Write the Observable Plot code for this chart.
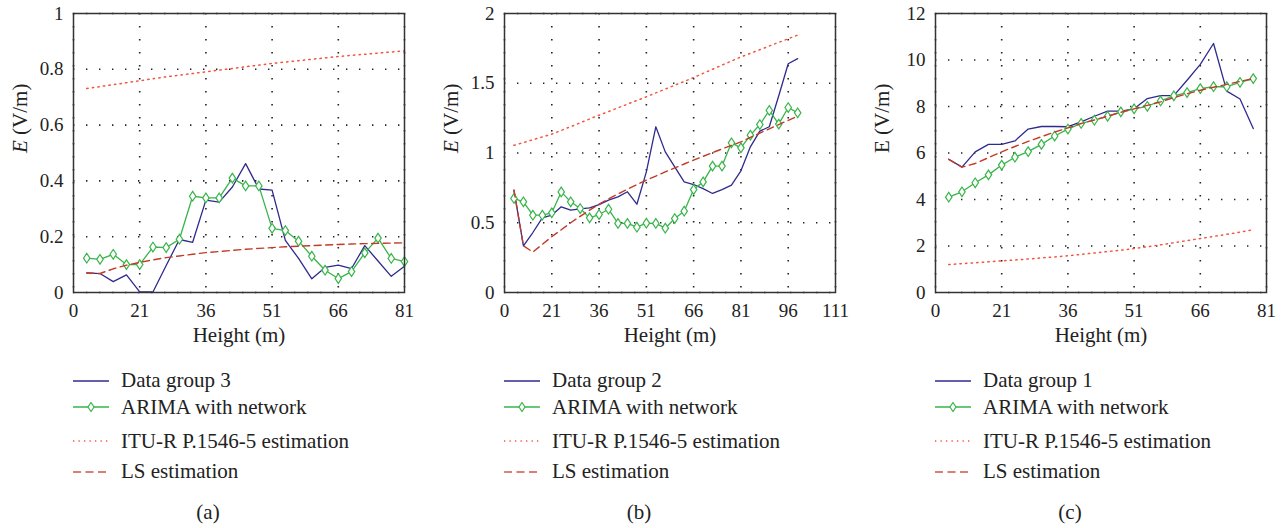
<!DOCTYPE html>
<html><head><meta charset="utf-8">
<script src="https://cdn.jsdelivr.net/npm/d3@7"></script>
<script src="https://cdn.jsdelivr.net/npm/@observablehq/plot@0.6"></script>
<style>
body{margin:0;background:#fff;width:1283px;height:528px;overflow:hidden;font-family:"Liberation Serif",serif;color:#222;position:relative}
.panel{position:absolute;top:0;width:431px;height:528px}
.panel svg.plot{position:absolute;left:0;top:0}
.legend-row{position:absolute;left:73px;height:24px;display:flex;align-items:center;font-size:21px;white-space:nowrap}
.legend-row svg{width:36px;height:14px;margin-right:12px;flex:none}
.caption{position:absolute;width:60px;text-align:center;font-size:21px;line-height:24px}
</style></head><body>
<script>
// ---------- data ----------
const heightsA = [9,12,15,18,21,24,27,30,33,36,39,42,45,48,51,54,57,60,63,66,69,72,75,78,81];
const dataA = [0.070,0.068,0.039,0.063,0.002,0.002,0.097,0.190,0.180,0.331,0.324,0.378,0.462,0.371,0.367,0.187,0.122,0.049,0.090,0.098,0.086,0.168,0.113,0.058,0.094];
const arimaA = [0.123,0.119,0.137,0.100,0.100,0.163,0.161,0.191,0.345,0.339,0.339,0.410,0.382,0.382,0.230,0.222,0.184,0.130,0.080,0.050,0.075,0.142,0.195,0.122,0.111];
const ituA = [0.731,0.738,0.745,0.752,0.759,0.766,0.773,0.779,0.785,0.791,0.797,0.803,0.809,0.815,0.821,0.826,0.831,0.836,0.841,0.846,0.850,0.854,0.858,0.862,0.866];
const lsA = [0.070,0.068,0.085,0.098,0.108,0.117,0.125,0.131,0.137,0.143,0.147,0.151,0.155,0.158,0.161,0.164,0.166,0.168,0.170,0.172,0.174,0.175,0.176,0.177,0.178];

const heightsB = [9,12,15,18,21,24,27,30,33,36,39,42,45,48,51,54,57,60,63,66,69,72,75,78,81,84,87,90,93,96,99];
const dataB = [0.734,0.335,0.430,0.535,0.554,0.614,0.590,0.600,0.607,0.630,0.662,0.686,0.722,0.633,0.865,1.188,1.008,0.900,0.793,0.774,0.745,0.710,0.738,0.770,0.872,1.044,1.157,1.188,1.410,1.640,1.677];
const arimaB = [0.674,0.650,0.554,0.554,0.571,0.721,0.650,0.602,0.535,0.559,0.597,0.495,0.495,0.468,0.497,0.495,0.461,0.530,0.583,0.738,0.793,0.906,0.906,1.073,1.037,1.128,1.204,1.305,1.207,1.326,1.288];
const ituB = [1.055,1.075,1.095,1.115,1.135,1.162,1.189,1.216,1.244,1.271,1.297,1.324,1.350,1.377,1.403,1.431,1.458,1.486,1.513,1.541,1.571,1.600,1.630,1.659,1.689,1.715,1.741,1.767,1.793,1.819,1.845];
const lsB = [0.734,0.335,0.290,0.345,0.400,0.450,0.500,0.546,0.590,0.633,0.672,0.707,0.740,0.773,0.805,0.835,0.865,0.893,0.921,0.949,0.976,1.003,1.029,1.055,1.080,1.112,1.143,1.173,1.204,1.234,1.264];

const heightsC = [9,12,15,18,21,24,27,30,33,36,39,42,45,48,51,54,57,60,63,66,69,72,75,78];
const dataC = [5.73,5.39,6.05,6.37,6.37,6.52,7.03,7.14,7.14,7.13,7.34,7.58,7.80,7.80,7.90,8.34,8.47,8.47,9.13,9.81,10.71,8.66,8.32,7.05];
const arimaC = [4.10,4.33,4.72,5.06,5.48,5.82,6.06,6.37,6.73,7.03,7.27,7.41,7.58,7.77,7.90,8.01,8.24,8.46,8.60,8.77,8.85,8.85,9.04,9.20];
const ituC = [1.20,1.24,1.28,1.32,1.36,1.40,1.44,1.49,1.53,1.58,1.64,1.70,1.76,1.82,1.89,1.97,2.05,2.14,2.23,2.32,2.41,2.50,2.60,2.70];
const lsC = [5.73,5.39,5.55,5.80,6.05,6.28,6.50,6.70,6.90,7.08,7.27,7.42,7.58,7.75,7.90,8.05,8.20,8.38,8.55,8.70,8.83,8.95,9.08,9.20];

const xTicksA = [6,21,36,51,66,81];
const xLabelsA = ["0","21","36","51","66","81"];
const xTicksB = [6,21,36,51,66,81,96,111];
const xLabelsB = ["0","21","36","51","66","81","96","111"];
const xTicksC = [6,21,36,51,66,81];
const xLabelsC = ["0","21","36","51","66","81"];

const yTicksA = [0,0.2,0.4,0.6,0.8,1];
const yTicksB = [0,0.5,1,1.5,2];
const yTicksC = [0,2,4,6,8,10,12];

const seriesNames = ["Data group", "ARIMA with network", "ITU-R P.1546-5 estimation", "LS estimation"];
const groupNumbers = [3, 2, 1];
const captions = ["(a)", "(b)", "(c)"];
const xAxisLabel = "Height (m)";
const yAxisLabel = "E (V/m)";

// ---------- styles ----------
const C = {blue:"#2e2b8e", green:"#38b54a", itu:"#f2553f", ls:"#c23b26", frame:"#333", grid:"#222"};
const DOT = "1.4,4.2", DASH = "7,4.5";

const tallDiamond = {
  draw(ctx, size) {
    const s = Math.sqrt(size);
    const w = s * 0.55, h = s * 0.82;
    ctx.moveTo(0, -h); ctx.lineTo(w, 0); ctx.lineTo(0, h); ctx.lineTo(-w, 0); ctx.closePath();
  }
};

function makePanel(cfg) {
  const rows = cfg.heights.map((h, i) => ({h, data: cfg.data[i], arima: cfg.arima[i], itu: cfg.itu[i], ls: cfg.ls[i]}));
  const wrap = document.createElement("div");
  wrap.className = "panel";
  wrap.style.left = cfg.left + "px";
  document.body.appendChild(wrap);

  const svg = Plot.plot({
    width: 431, height: 350,
    marginLeft: 73, marginRight: 27, marginTop: 13, marginBottom: 58,
    style: {fontFamily: "'Liberation Serif', serif", fontSize: "19px", color: "#222", background: "transparent", overflow: "visible"},
    x: {domain: cfg.xDomain},
    y: {domain: cfg.yDomain},
    marks: [
      Plot.gridX(cfg.xTicks, {stroke: C.grid, strokeOpacity: 1, strokeWidth: 1.6, strokeDasharray: "1.4,11.6"}),
      Plot.gridY(cfg.yTicks, {stroke: C.grid, strokeOpacity: 1, strokeWidth: 1.6, strokeDasharray: "1.4,11.6"}),
      Plot.line(rows, {x: "h", y: "data", stroke: C.blue, strokeWidth: 1.3}),
      Plot.line(rows, {x: "h", y: "arima", stroke: C.green, strokeWidth: 1.3}),
      Plot.dot(rows, {x: "h", y: "arima", symbol: tallDiamond, r: 3.3, stroke: C.green, fill: "white", strokeWidth: 1.2}),
      Plot.line(rows, {x: "h", y: "itu", stroke: C.itu, strokeWidth: 1.5, strokeDasharray: DOT}),
      Plot.line(rows, {x: "h", y: "ls", stroke: C.ls, strokeWidth: 1.4, strokeDasharray: DASH}),
      Plot.frame({stroke: C.frame, strokeWidth: 1.5}),
      Plot.axisX(cfg.xTicks, {tickSize: 0, tickPadding: 11, fontSize: 19, label: null,
        tickFormat: d => cfg.xLabels[cfg.xTicks.indexOf(d)]}),
      Plot.axisY(cfg.yTicks, {tickSize: 0, tickPadding: 10, fontSize: 19, label: null,
        tickFormat: d => String(d)}),
      Plot.text([xAxisLabel], {text: d => d, frameAnchor: "bottom", dy: 43, lineAnchor: "middle", fontSize: 21}),
      Plot.text([yAxisLabel], {text: d => d, frameAnchor: "left", dx: -53, rotate: -90, lineAnchor: "middle", fontSize: 21})
    ]
  });
  svg.classList.add("plot");
  wrap.appendChild(svg);

  if (cfg.italicE) {
    const ns = "http://www.w3.org/2000/svg";
    Array.from(svg.querySelectorAll("text")).filter(t => t.textContent === yAxisLabel).forEach(t => {
      t.textContent = "";
      const a = document.createElementNS(ns, "tspan");
      a.setAttribute("font-style", "italic"); a.style.fontStyle = "italic"; a.textContent = "E";
      const b = document.createElementNS(ns, "tspan");
      b.textContent = yAxisLabel.slice(1);
      t.appendChild(a); t.appendChild(b);
    });
  }

  // legend
  const centers = [380.5, 407, 441, 471.5];
  const labels = [seriesNames[0] + " " + cfg.group, seriesNames[1], seriesNames[2], seriesNames[3]];
  labels.forEach((lab, i) => {
    const row = document.createElement("div");
    row.className = "legend-row";
    row.style.top = (centers[i] - 12) + "px";
    const sw = d3.create("svg").attr("viewBox", "0 0 36 14");
    const ln = sw.append("line").attr("x1", 0).attr("x2", 36).attr("y1", 7).attr("y2", 7).attr("stroke-width", 1.4);
    if (i === 0) ln.attr("stroke", C.blue);
    if (i === 1) {
      ln.attr("stroke", C.green);
      sw.append("path").attr("d", "M18,2.5L21,7L18,11.5L15,7Z").attr("fill", "white").attr("stroke", C.green).attr("stroke-width", 1.2);
    }
    if (i === 2) ln.attr("stroke", C.itu).attr("stroke-dasharray", "1.3,4.2");
    if (i === 3) ln.attr("stroke", C.ls).attr("stroke-dasharray", "8,4.5").attr("opacity", 0.85);
    row.appendChild(sw.node());
    const span = document.createElement("span");
    span.textContent = lab;
    row.appendChild(span);
    wrap.appendChild(row);
  });

  const cap = document.createElement("div");
  cap.className = "caption";
  cap.style.left = (208 - 30) + "px";
  cap.style.top = (512 - 12) + "px";
  cap.textContent = cfg.caption;
  wrap.appendChild(cap);
}

makePanel({left: 0, heights: heightsA, data: dataA, arima: arimaA, itu: ituA, ls: lsA,
  xDomain: [6, 81], xTicks: xTicksA, xLabels: xLabelsA, yDomain: [0, 1], yTicks: yTicksA,
  italicE: true, group: groupNumbers[0], caption: captions[0]});
makePanel({left: 431, heights: heightsB, data: dataB, arima: arimaB, itu: ituB, ls: lsB,
  xDomain: [6, 111], xTicks: xTicksB, xLabels: xLabelsB, yDomain: [0, 2], yTicks: yTicksB,
  italicE: true, group: groupNumbers[1], caption: captions[1]});
makePanel({left: 862, heights: heightsC, data: dataC, arima: arimaC, itu: ituC, ls: lsC,
  xDomain: [6, 81], xTicks: xTicksC, xLabels: xLabelsC, yDomain: [0, 12], yTicks: yTicksC,
  italicE: false, group: groupNumbers[2], caption: captions[2]});
</script></body></html>
